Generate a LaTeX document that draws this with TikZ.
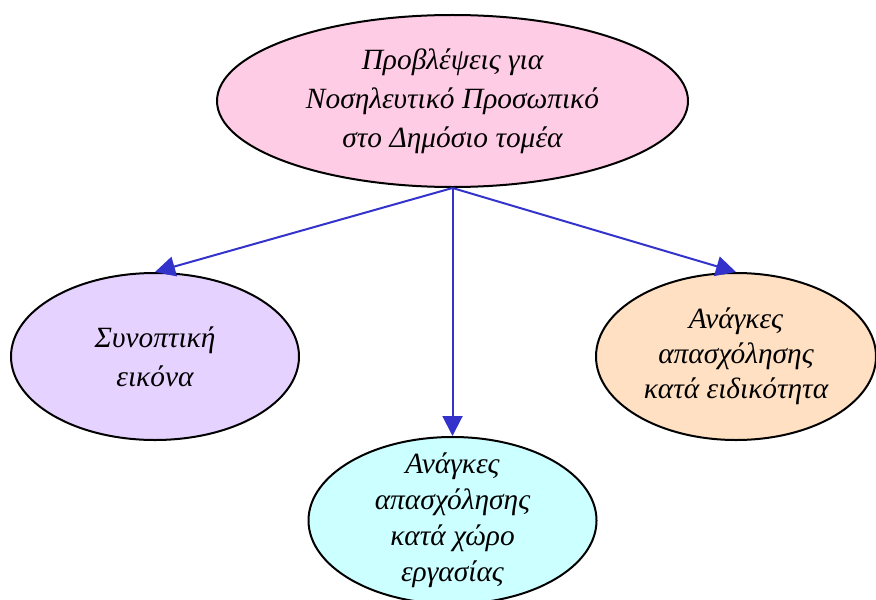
\documentclass[tikz,border=0pt]{standalone}
\usepackage{fontspec}
\setmainfont{Liberation Serif}
\usetikzlibrary{arrows.meta, shapes.geometric}
\definecolor{cpink}{HTML}{FFCCE6}
\definecolor{clilac}{HTML}{E6D2FF}
\definecolor{cpeach}{HTML}{FFE0C2}
\definecolor{ccyan}{HTML}{CCFFFF}
\definecolor{cblue}{HTML}{3333CC}
\tikzset{
  every picture/.style={font=\itshape\fontsize{14.7}{19.5}\selectfont},
  oval/.style={ellipse, draw=black, fill=#1, line width=1pt, align=center, inner sep=0pt},
  oval/.default=white,
  arrow/.style={-{Triangle[length=10pt, width=10pt]}, draw=cblue, line width=1pt},
}
\begin{document}
\begin{tikzpicture}[x=0.5pt, y=-0.5pt,
  big/.style={oval=cpink, minimum width=235.5pt, minimum height=86pt},
  sm/.style={minimum width=144pt, minimum height=83.5pt, inner ysep=-6pt}]
  \useasboundingbox (0,0) rectangle (876,599);
  % root
  \node[big] (root) at (452.5,101) {Προβλέψεις για\\Νοσηλευτικό Προσωπικό\\στο Δημόσιο τομέα};
  % children
  \node[oval=clilac, sm] (syn) at (155,356.5) {Συνοπτική\\εικόνα};
  \node[oval=ccyan, sm, font=\itshape\fontsize{14.7}{18}\selectfont] (xor) at (452.5,520.5)
    {Ανάγκες\\απασχόλησης\\κατά χώρο\\εργασίας};
  \node[oval=cpeach, sm, minimum width=140pt, font=\itshape\fontsize{14.7}{17.5}\selectfont] (eid) at (736,356.5)
    {Ανάγκες\\απασχόλησης\\κατά ειδικότητα};
  \foreach \c in {syn,xor,eid} \draw[arrow] (root.south) -- (\c.north);
\end{tikzpicture}
\end{document}
